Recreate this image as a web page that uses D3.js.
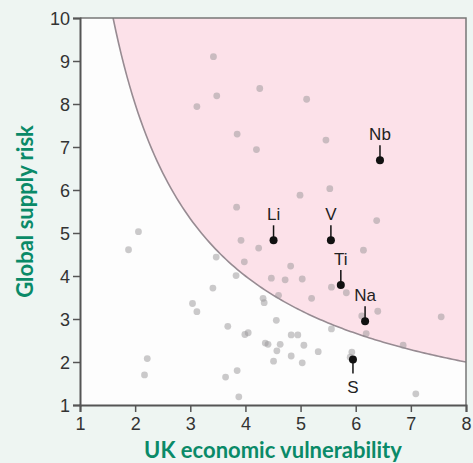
<!DOCTYPE html>
<html lang="en">
<head>
    <meta charset="UTF-8">
    <title>Criticality</title>
    <script src="https://cdn.jsdelivr.net/npm/d3@7"></script>
    <style>
        body { margin: 0; background: #eef5f2; }
        .tick text { font-family: "Liberation Sans", Arial, sans-serif; font-size: 18px; fill: #333; }
        .axis-title { font-family: Lato, "Open Sans", sans-serif; font-weight: 700; font-size: 22px; fill: #0a8a68; }
        .lbl { font-family: "Liberation Sans", Arial, sans-serif; font-size: 17px; fill: #222; }
    </style>
</head>
<body>
    <script>
        // grey background materials: [economic vulnerability, supply risk]
        var otherX = [3.42,3.48,3.12,4.26,5.11,3.85,4.20,5.46,4.99,5.53,3.84,6.38,3.92,4.24,6.14,3.98,4.82,3.83,4.47,4.72,
                      5.03,5.56,5.83,4.60,5.20,4.32,4.34,3.47,3.41,4.56,3.68,3.99,4.05,4.83,4.95,4.36,4.41,4.63,5.06,4.57,
                      5.32,4.83,4.51,5.03,3.85,3.64,3.88,2.06,1.88,3.04,3.12,2.22,2.17,6.11,6.40,7.55,5.56,6.19,6.86,5.93,
                      5.90,7.09];
        var otherY = [9.10,8.19,7.94,8.36,8.11,7.30,6.94,7.16,5.88,6.03,5.60,5.29,4.83,4.65,4.60,4.33,4.23,4.01,3.95,3.91,
                      3.93,3.74,3.61,3.55,3.48,3.48,3.38,4.44,3.72,2.97,2.83,2.64,2.68,2.63,2.63,2.44,2.41,2.41,2.39,2.26,
                      2.24,2.14,2.02,1.98,1.80,1.65,1.19,5.03,4.61,3.36,3.17,2.08,1.70,3.07,3.18,3.05,2.77,2.66,2.39,2.23,
                      2.11,1.26];

        // highlighted materials
        var namedLabels = ["Nb", "Li", "V", "Ti", "Na", "S"];
        var namedX = [6.44, 4.51, 5.55, 5.73, 6.17, 5.95];
        var namedY = [6.69, 4.83, 4.83, 3.79, 2.95, 2.06];
        var labelBelow = ["S"];

        var xTicks = [1, 2, 3, 4, 5, 6, 7, 8];
        var yTicks = [1, 2, 3, 4, 5, 6, 7, 8, 9, 10];
        var criticalThreshold = 16;   // vulnerability x risk boundary

        var width = 473, height = 463;
        var margin = {top: 18, right: 7, bottom: 58, left: 80};

        var svg = d3.select("body").append("svg")
            .attr("width", width)
            .attr("height", height);

        var x = d3.scaleLinear().domain([1, 8]).range([margin.left, width - margin.right]);
        var y = d3.scaleLinear().domain([1, 10]).range([height - margin.bottom, margin.top]);

        // plot background
        svg.append("rect")
            .attr("x", x(1)).attr("y", y(10))
            .attr("width", x(8) - x(1)).attr("height", y(1) - y(10))
            .attr("fill", "#fdfdfd");

        svg.append("clipPath").attr("id", "plotclip")
            .append("rect")
            .attr("x", x(1)).attr("y", y(10))
            .attr("width", x(8) - x(1)).attr("height", y(1) - y(10));

        var curveX = d3.range(criticalThreshold / 10, 8.0001, 0.05);
        var area = d3.area()
            .x(function(d){ return x(d); })
            .y0(y(10))
            .y1(function(d){ return y(criticalThreshold / d); });
        var line = d3.line()
            .x(function(d){ return x(d); })
            .y(function(d){ return y(criticalThreshold / d); });

        var g = svg.append("g").attr("clip-path", "url(#plotclip)");
        g.append("path").datum(curveX).attr("d", area).attr("fill", "#fce1e9");
        g.append("path").datum(curveX).attr("d", line)
            .attr("fill", "none").attr("stroke", "#978b92").attr("stroke-width", 1.6);

        // grey dots
        g.selectAll(".other")
            .data(otherX.map(function(v, i){ return [v, otherY[i]]; }))
            .enter().append("circle")
            .attr("class", "other")
            .attr("cx", function(d){ return x(d[0]); })
            .attr("cy", function(d){ return y(d[1]); })
            .attr("r", 3.4)
            .attr("fill", "#989698")
            .attr("fill-opacity", 0.5);

        // frame (top/right)
        svg.append("path")
            .attr("d", "M" + x(1) + "," + y(10) + "H" + x(8) + "V" + y(1))
            .attr("fill", "none").attr("stroke", "#777").attr("stroke-width", 1.5);

        // axes
        var xAxis = svg.append("g")
            .attr("transform", "translate(0," + y(1) + ")")
            .call(d3.axisBottom(x).tickValues(xTicks).tickSize(7).tickPadding(5).tickFormat(d3.format("d")));
        var yAxis = svg.append("g")
            .attr("transform", "translate(" + x(1) + ",0)")
            .call(d3.axisLeft(y).tickValues(yTicks).tickSize(7).tickPadding(3).tickFormat(d3.format("d")));
        [xAxis, yAxis].forEach(function(a){
            a.select(".domain").attr("stroke", "#555").attr("stroke-width", 2);
            a.selectAll(".tick line").attr("stroke", "#555").attr("stroke-width", 1.5);
            a.attr("font-family", null).attr("font-size", null);
        });
        yAxis.selectAll(".tick text").attr("dy", "0.35em");

        // named materials
        var named = svg.selectAll(".named")
            .data(namedLabels.map(function(n, i){ return {name: n, x: namedX[i], y: namedY[i]}; }))
            .enter().append("g")
            .attr("class", "named")
            .attr("transform", function(d){ return "translate(" + x(d.x) + "," + y(d.y) + ")"; });

        named.append("line")
            .attr("x1", 0).attr("x2", 0)
            .attr("y1", 0)
            .attr("y2", function(d){ return labelBelow.indexOf(d.name) >= 0 ? 14 : -15; })
            .attr("stroke", "#111").attr("stroke-width", 1.5);
        named.append("circle").attr("r", 4).attr("fill", "#111");
        named.append("text")
            .attr("class", "lbl")
            .attr("text-anchor", "middle")
            .attr("y", function(d){ return labelBelow.indexOf(d.name) >= 0 ? 34 : -20; })
            .text(function(d){ return d.name; });

        // axis titles
        svg.append("text")
            .attr("class", "axis-title")
            .attr("x", (x(1) + x(8)) / 2)
            .attr("y", 458)
            .attr("text-anchor", "middle")
            .text("UK economic vulnerability");
        svg.append("text")
            .attr("class", "axis-title")
            .attr("transform", "translate(33," + ((y(1) + y(10)) / 2) + ") rotate(-90)")
            .attr("text-anchor", "middle")
            .text("Global supply risk");
    </script>
</body>
</html>
